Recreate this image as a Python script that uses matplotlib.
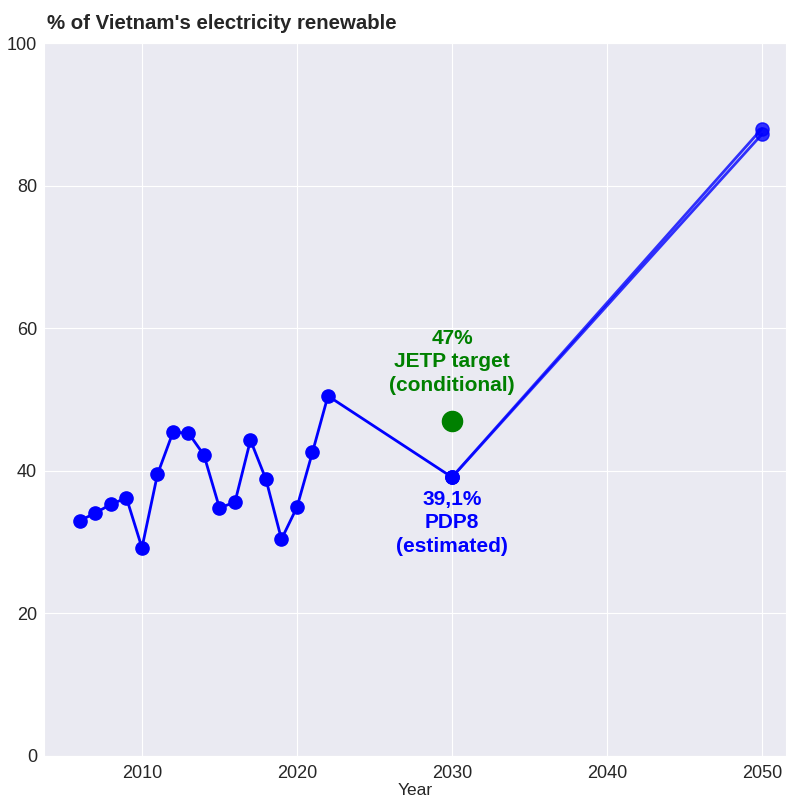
import matplotlib.pyplot as plt
import seaborn as sns

sns.set_style("darkgrid")
plt.rcParams['font.family'] = ['Liberation Sans', 'DejaVu Sans']

# historical share of renewables (%)
years = [2006, 2007, 2008, 2009, 2010, 2011, 2012, 2013, 2014, 2015, 2016,
         2017, 2018, 2019, 2020, 2021, 2022, 2030]
share = [33.0, 34.1, 35.3, 36.2, 29.2, 39.5, 45.4, 45.3, 42.2, 34.8, 35.6,
         44.3, 38.8, 30.4, 34.9, 42.6, 50.5, 39.1]

# projections to 2050
proj_years = [2030, 2050]
proj_a = [39.1, 88.0]
proj_b = [39.1, 87.2]

jetp_year = 2030
jetp_value = 47

fig = plt.figure(figsize=(7.86, 8.01), dpi=100)
ax = fig.add_axes([44/786, 1 - 756/801, 742/786, 713/801])

ax.plot(years, share, color='blue', marker='o', markersize=9.5, linewidth=2)
ax.plot(proj_years, proj_a, color='blue', marker='o', markersize=9.5, linewidth=2, alpha=0.8)
ax.plot(proj_years, proj_b, color='blue', marker='o', markersize=9.5, linewidth=2, alpha=0.8)
ax.plot([jetp_year], [jetp_value], color='green', marker='o', markersize=14.5)

ax.text(jetp_year, 55.3, "47%\nJETP target\n(conditional)", color='green',
        fontsize=15, fontweight='bold', ha='center', va='center', linespacing=1.3)
ax.text(jetp_year, 32.7, "39,1%\nPDP8\n(estimated)", color='blue',
        fontsize=15, fontweight='bold', ha='center', va='center', linespacing=1.3)

ax.set_xlim(2003.68, 2051.55)
ax.set_ylim(0, 100)
ax.set_xticks([2010, 2020, 2030, 2040, 2050])
ax.set_yticks([0, 20, 40, 60, 80, 100])
ax.tick_params(axis='x', labelsize=13, pad=3)
ax.tick_params(axis='y', labelsize=13, pad=1.5)
ax.set_xlabel("Year", fontsize=12.5, labelpad=1)
ax.set_title("% of Vietnam's electricity renewable", loc='left', fontsize=14.7,
             fontweight='bold', pad=10, x=0.004)

fig.savefig("out.png", dpi=100)
